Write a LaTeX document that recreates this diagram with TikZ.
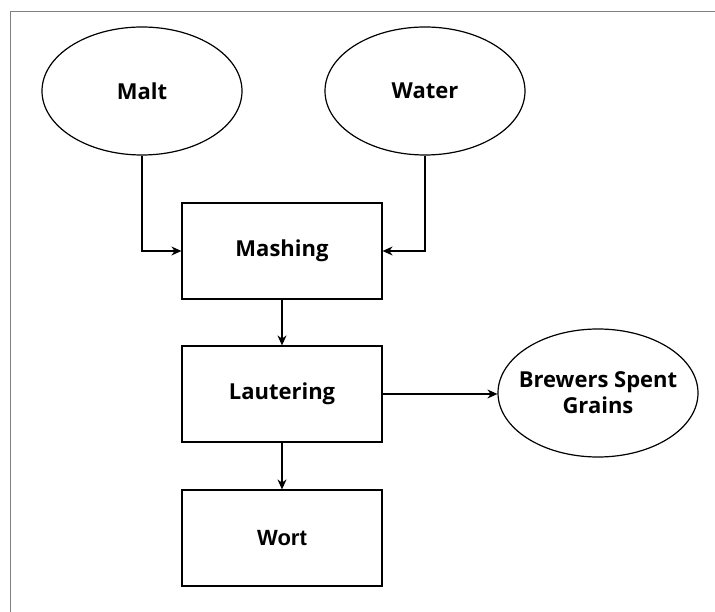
\documentclass[tikz,border=0pt]{standalone}
\usepackage{fontspec}
\setmainfont{Open Sans}
\newfontfamily\wortfont{Liberation Sans}
\usetikzlibrary{shapes.geometric,arrows.meta}

\begin{document}
\begin{tikzpicture}[x=1pt,y=-1pt,
		source/.style={ellipse,draw,line width=1.2pt,minimum width=200pt,minimum height=128pt,inner sep=0pt,align=center,font=\bfseries\fontsize{22}{26}\selectfont},
		process/.style={rectangle,draw,line width=1.2pt,minimum width=200pt,minimum height=96pt,font=\bfseries\fontsize{22}{26}\selectfont},
		flow/.style={line width=1.2pt,-{Stealth[length=10pt,width=9pt]}}]
		\useasboundingbox (0,0) rectangle (715,612);
		\draw[gray,line width=1pt] (10,612) -- (10,12) -- (715,12);
		% inputs
		\node[source] (malt) at (142,91) {Malt};
		\node[source] (water) at (425,91) {Water};
		% process steps
		\node[process] (mashing) at (282,251) {Mashing};
		\node[process] (lautering) at (282,394) {Lautering};
		\node[process,font=\wortfont\bfseries\fontsize{22}{26}\selectfont] (wort) at (282,538) {Wort};
		\node[source] (bsg) at (598,393) {\makebox[0pt]{Brewers Spent}\\\makebox[0pt]{Grains}};
		% flows
		\draw[flow] (malt.south) |- (mashing.west);
		\draw[flow] (water.south) |- (mashing.east);
		\draw[flow] (mashing) -- (lautering);
		\draw[flow] (lautering) -- (wort);
		\draw[flow] (lautering.east) -- (lautering.east -| bsg.west);
	\end{tikzpicture}
\end{document}
